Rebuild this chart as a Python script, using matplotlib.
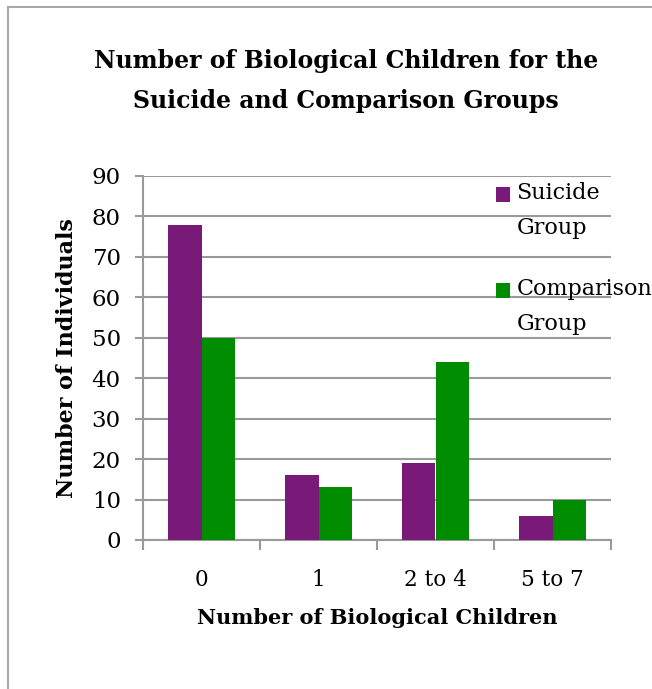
import numpy as np
import matplotlib
matplotlib.use('Agg')
import matplotlib.pyplot as plt
from matplotlib.lines import Line2D
from matplotlib.patches import Rectangle
from matplotlib.container import BarContainer
from matplotlib.legend_handler import HandlerPatch

categorias = ['0', '1', '2 to 4', '5 to 7']
suicidio = [78, 16, 19, 6]
comparacion = [50, 13, 44, 10]
yticks = list(range(0, 100, 10))

plt.rcParams['font.family'] = 'DejaVu Serif'

fig = plt.figure(figsize=(6.52, 6.89), dpi=100)
ax = fig.add_axes([143 / 652, 1 - 540 / 689, 468 / 652, 364 / 689])

x = np.arange(len(categorias))
w = 0.285
ax.bar(x - w / 2, suicidio, w, color='#7A1A78', label='Suicide\nGroup', zorder=3)
ax.bar(x + w / 2, comparacion, w, color='#008C00', label='Comparison\nGroup', zorder=3)

ax.set_xlim(-0.5, len(categorias) - 0.5)
ax.set_ylim(0, 90)
ax.set_yticks(yticks)
ax.yaxis.grid(True, color='#9A9A9A', linewidth=1.5, zorder=0)
ax.set_xticks(x)
ax.set_xticklabels(categorias)
ax.set_xticks(np.arange(-0.5, len(categorias)), minor=True)
ax.tick_params(axis='x', which='major', length=0, pad=21, labelsize=15.5)
ax.tick_params(axis='x', which='minor', length=7, width=1.5, color='#9A9A9A', direction='out')
ax.tick_params(axis='y', length=6, width=1.5, color='#9A9A9A', labelsize=16.5, pad=10)

for s in ['top', 'right']:
    ax.spines[s].set_visible(False)
for s in ['left', 'bottom']:
    ax.spines[s].set_color('#9A9A9A')
    ax.spines[s].set_linewidth(1.5)

ax.set_ylabel('Number of Individuals', fontsize=16, fontweight='bold', labelpad=10)
ax.set_xlabel('Number of Biological Children', fontsize=15, fontweight='bold', labelpad=12)

fig.text(346 / 652, 1 - 81 / 689, 'Number of Biological Children for the\nSuicide and Comparison Groups',
         ha='center', va='center', fontsize=17, fontweight='bold', linespacing=1.85)


# cuadrito de la leyenda alineado con la primera linea del texto
def cuadro(legend, orig_handle, xdescent, ydescent, width, height, fontsize):
    return Rectangle((-xdescent, -ydescent + 0.75 * fontsize), width, height)


def copiar_color(tgt, src):
    tgt.update_from(src.patches[0])


leg = ax.legend(loc='upper left', bbox_to_anchor=(487 / 652, 1 - 173 / 689),
                bbox_transform=fig.transFigure, frameon=False, fontsize=16,
                handlelength=0.63, handleheight=0.63, handletextpad=0.3, labelspacing=1.75,
                borderaxespad=0,
                handler_map={BarContainer: HandlerPatch(patch_func=cuadro, update_func=copiar_color)})
for t in leg.get_texts():
    t.set_linespacing(1.77)

# marco gris a la izquierda y arriba
fig.add_artist(Line2D([8 / 652, 8 / 652], [0, 1 - 7 / 689], transform=fig.transFigure, color='#A8A8A8', lw=1.5))
fig.add_artist(Line2D([8 / 652, 1], [1 - 7 / 689, 1 - 7 / 689], transform=fig.transFigure, color='#A8A8A8', lw=1.5))

plt.savefig('out.png', dpi=100)
